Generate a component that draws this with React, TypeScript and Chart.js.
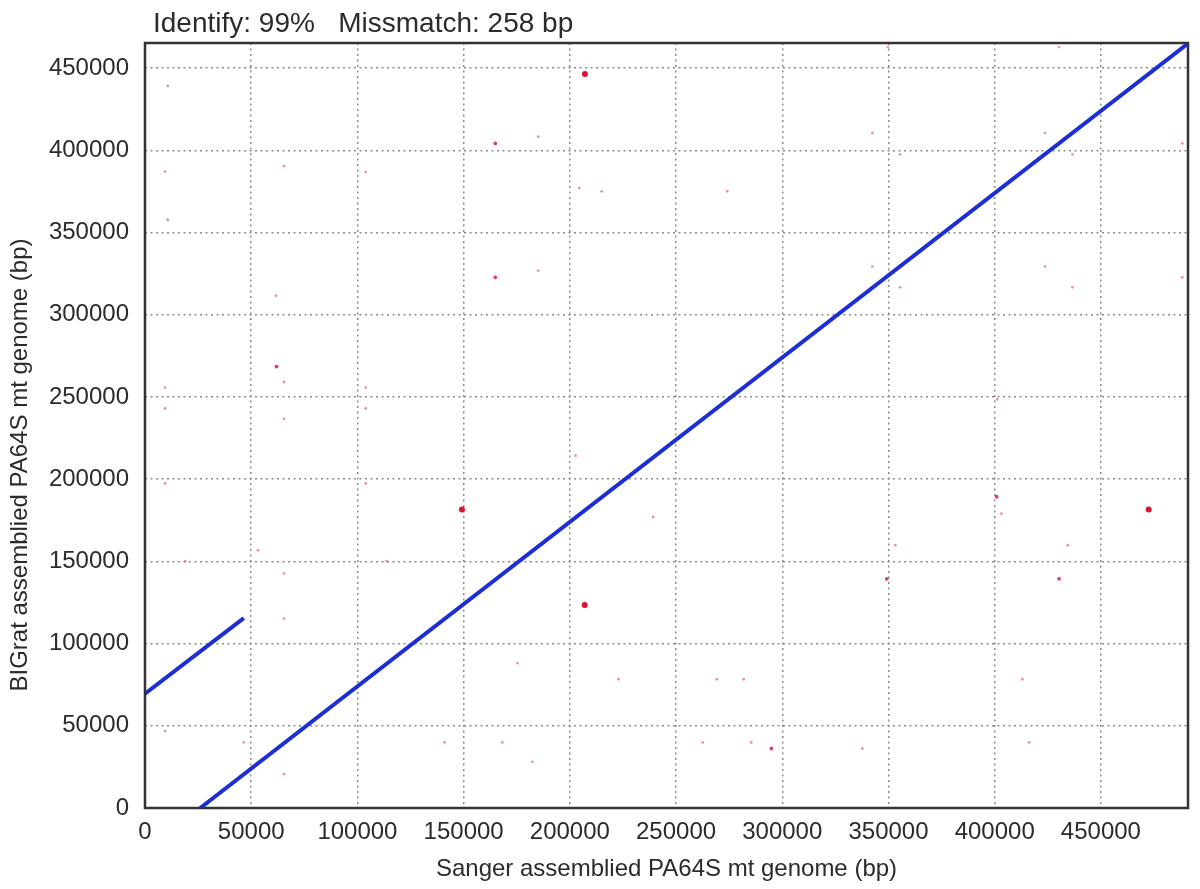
import React, { useEffect, useRef } from "react";
import { Chart, registerables } from "chart.js";

Chart.register(...registerables);

const TITLE_TEXT = "Identify: 99%   Missmatch: 258 bp";
const X_TITLE = "Sanger assemblied PA64S mt genome (bp)";
const Y_TITLE = "BIGrat assemblied PA64S mt genome (bp)";

const X_MAX = 491000;
const Y_MAX = 465300;
const xTickValues = [0, 50000, 100000, 150000, 200000, 250000, 300000, 350000, 400000, 450000];
const yTickValues = [0, 50000, 100000, 150000, 200000, 250000, 300000, 350000, 400000, 450000];

// Alignment segments (blue)
const mainLineX = [26000, 491000];
const mainLineY = [0, 465000];
const wrapLineX = [0, 46500];
const wrapLineY = [69500, 115500];

// Strong mismatch dots
const strongDotsX = [207100, 149200, 207000, 472500];
const strongDotsY = [446500, 181500, 123500, 181500];

// Medium dots
const mediumDotsX = [164900, 61900, 164900, 294900, 400900, 430300, 349200];
const mediumDotsY = [404200, 268500, 322800, 36200, 189300, 139400, 139400];

// Faint dots
const faintDotsX = [
  185100, 9450, 65400, 103900, 204400, 215000, 185100, 61700, 9450, 65400,
  103900, 9450, 103900, 65400,
  349700, 430300, 342400, 423700, 355500, 436600, 488300, 274100, 342400,
  423700, 355500, 436600, 488300, 401200,
  9450, 103900, 202700, 239200, 53200, 18900, 113700, 65400, 65400, 175300,
  222900, 46500, 141000, 168200, 182400, 65400,
  403200, 353200, 434400, 269200, 281800, 413000, 262600, 285400, 337700, 416200,
];
const faintDotsY = [
  408300, 387100, 390400, 386900, 377100, 375100, 326900, 311600, 255700, 259100,
  255700, 243000, 243000, 236700,
  462800, 462800, 410500, 410500, 397500, 397500, 404200, 375100, 329300,
  329300, 316700, 316700, 322800, 248500,
  197400, 197400, 214300, 177000, 156700, 150200, 150200, 142700, 115200, 88100,
  78300, 39900, 39900, 39900, 28100, 20600,
  179100, 159800, 159800, 78300, 78300, 78300, 39900, 39900, 36200, 39900,
];

// Grayish dots
const grayDotsX = [10700, 10700, 9450];
const grayDotsY = [439200, 357800, 46800];

const zip = (xs: number[], ys: number[]) => xs.map((x, i) => ({ x, y: ys[i] }));

const FONT = "'Liberation Sans', Arial, Helvetica, sans-serif";

const decorPlugin = {
  id: "decor",
  afterDatasetsDraw(chart: any) {
    const { ctx, chartArea } = chart;
    ctx.save();
    ctx.strokeStyle = "#333333";
    ctx.lineWidth = 2.5;
    ctx.strokeRect(
      chartArea.left,
      chartArea.top,
      chartArea.right - chartArea.left,
      chartArea.bottom - chartArea.top
    );
    ctx.restore();
  },
  afterDraw(chart: any) {
    const { ctx, chartArea } = chart;
    ctx.save();
    ctx.fillStyle = "#2b2b2b";
    ctx.font = `28px ${FONT}`;
    ctx.textAlign = "left";
    ctx.textBaseline = "alphabetic";
    ctx.fillText(TITLE_TEXT, chartArea.left + 8, 32);

    ctx.font = `24px ${FONT}`;
    ctx.textAlign = "center";
    ctx.textBaseline = "middle";
    ctx.fillText(X_TITLE, (chartArea.left + chartArea.right) / 2, 869);

    ctx.translate(20, 465);
    ctx.rotate(-Math.PI / 2);
    ctx.fillText(Y_TITLE, 0, 0);
    ctx.restore();
  },
};

export default function App() {
  const ref = useRef<HTMLCanvasElement | null>(null);

  useEffect(() => {
    const canvas = ref.current;
    if (!canvas) return;
    const gridOpts = {
      color: "#8c8c8c",
      lineWidth: 1.5,
      drawTicks: false,
    };
    const chart = new Chart(canvas, {
      type: "scatter",
      data: {
        datasets: [
          {
            data: zip(faintDotsX, faintDotsY),
            backgroundColor: "rgba(225,70,110,0.6)",
            borderColor: "rgba(225,70,110,0.6)",
            pointRadius: 1.4,
            borderWidth: 0,
          },
          {
            data: zip(grayDotsX, grayDotsY),
            backgroundColor: "rgba(120,110,170,0.65)",
            borderColor: "rgba(120,110,170,0.65)",
            pointRadius: 1.4,
            borderWidth: 0,
          },
          {
            data: zip(mediumDotsX, mediumDotsY),
            backgroundColor: "rgba(215,30,80,0.85)",
            borderColor: "rgba(215,30,80,0.85)",
            pointRadius: 1.9,
            borderWidth: 0,
          },
          {
            data: zip(strongDotsX, strongDotsY),
            backgroundColor: "#e0102f",
            borderColor: "#e0102f",
            pointRadius: 3,
            borderWidth: 0,
          },
          {
            data: zip(mainLineX, mainLineY),
            showLine: true,
            borderColor: "#1c2fd6",
            borderWidth: 4,
            pointRadius: 0,
          },
          {
            data: zip(wrapLineX, wrapLineY),
            showLine: true,
            borderColor: "#1c2fd6",
            borderWidth: 4,
            pointRadius: 0,
          },
        ],
      },
      options: {
        animation: false,
        responsive: false,
        layout: { padding: { top: 43, right: 12, left: 0, bottom: 0 } },
        plugins: {
          legend: { display: false },
          tooltip: { enabled: false },
          title: { display: false },
        },
        scales: {
          x: {
            type: "linear",
            min: 0,
            max: X_MAX,
            border: { display: false, dash: [2, 3.5] },
            grid: gridOpts,
            ticks: {
              autoSkip: false,
              maxRotation: 0,
              padding: 10,
              color: "#2b2b2b",
              font: { family: FONT, size: 24 },
              callback: (v: any) => String(v),
            },
            afterBuildTicks: (scale: any) => {
              scale.ticks = xTickValues.map((v) => ({ value: v }));
            },
            afterFit: (scale: any) => {
              scale.height = 81;
            },
          },
          y: {
            type: "linear",
            min: 0,
            max: Y_MAX,
            border: { display: false, dash: [2, 3.5] },
            grid: gridOpts,
            ticks: {
              autoSkip: false,
              padding: 16,
              color: "#2b2b2b",
              font: { family: FONT, size: 24 },
              callback: (v: any) => String(v),
            },
            afterBuildTicks: (scale: any) => {
              scale.ticks = yTickValues.map((v) => ({ value: v }));
            },
            afterFit: (scale: any) => {
              scale.width = 145;
            },
          },
        },
      },
      plugins: [decorPlugin],
    });
    return () => chart.destroy();
  }, []);

  return (
    <div style={{ position: "absolute", left: 0, top: 0, width: 1200, height: 889, background: "#fff" }}>
      <canvas ref={ref} width={1200} height={889} />
    </div>
  );
}
